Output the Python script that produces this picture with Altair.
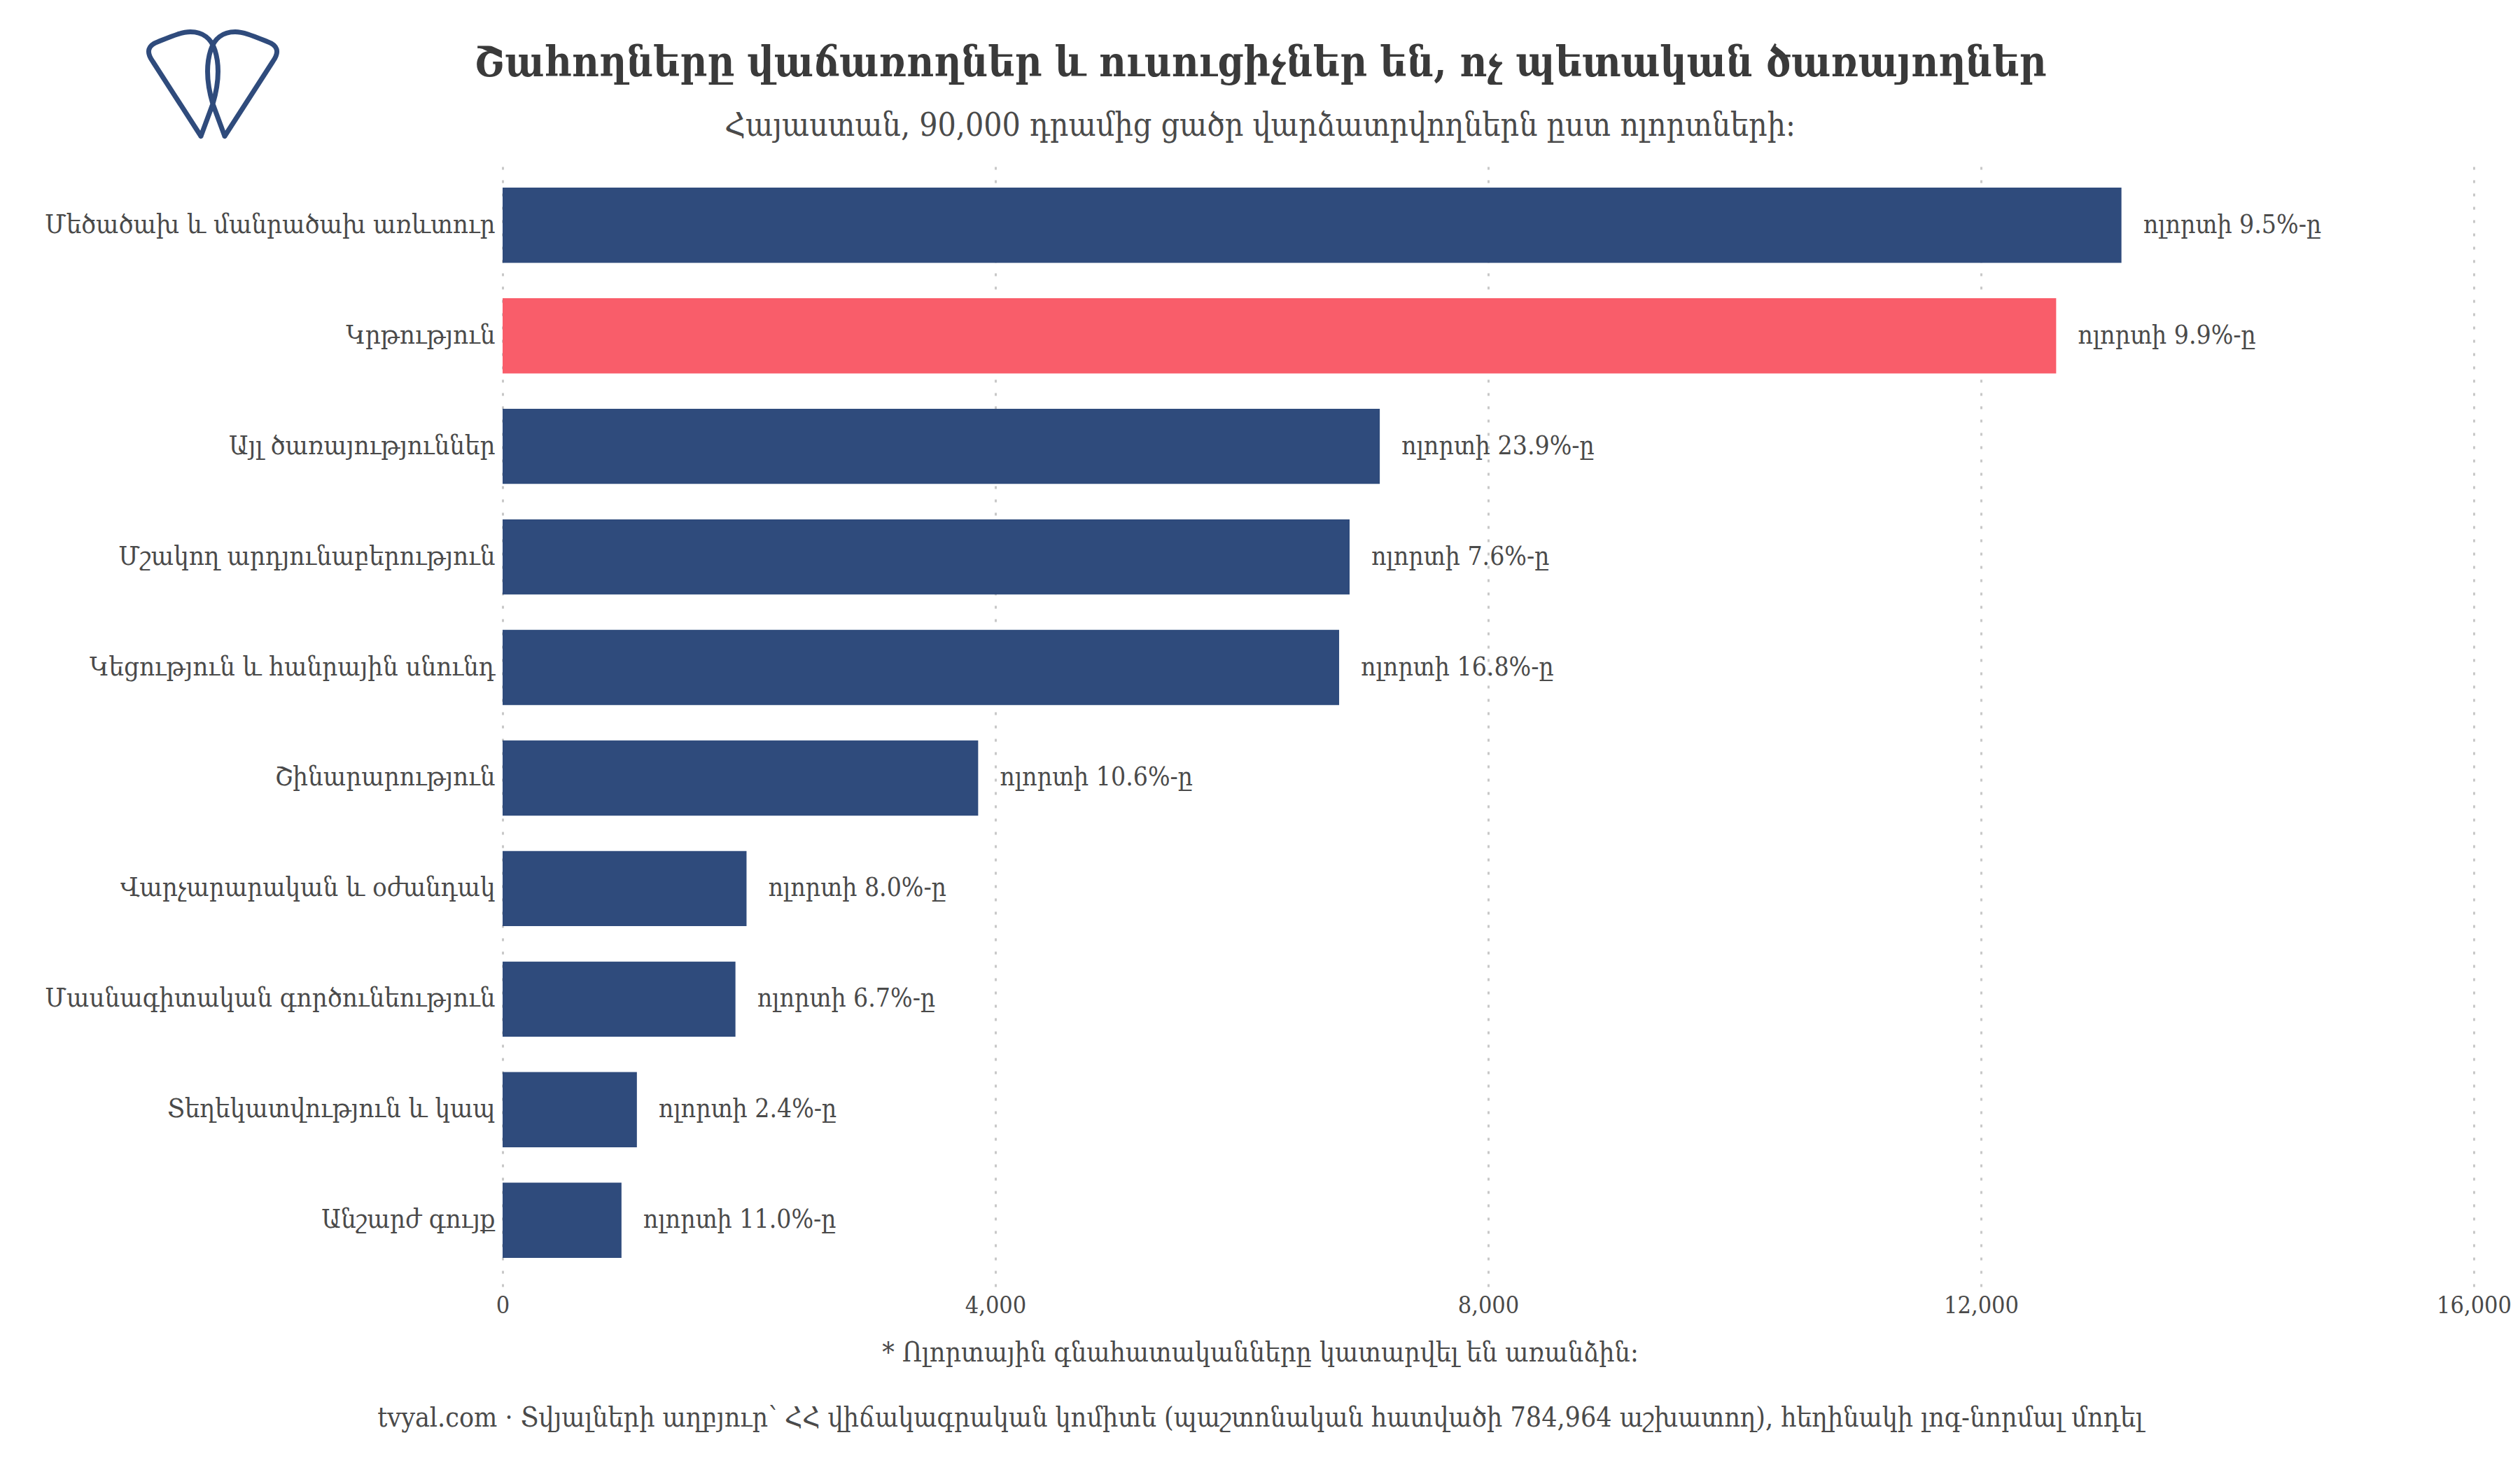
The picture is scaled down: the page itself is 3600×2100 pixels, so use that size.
import altair as alt
import pandas as pd

categories = [
    "Մեծածախ և մանրածախ առևտուր",
    "Կրթություն",
    "Այլ ծառայություններ",
    "Մշակող արդյունաբերություն",
    "Կեցություն և հանրային սնունդ",
    "Շինարարություն",
    "Վարչարարական և օժանդակ",
    "Մասնագիտական գործունեություն",
    "Տեղեկատվություն և կապ",
    "Անշարժ գույք",
]
values = [13140, 12610, 7120, 6875, 6790, 3860, 1980, 1890, 1090, 965]
shares = ["9.5", "9.9", "23.9", "7.6", "16.8", "10.6", "8.0", "6.7", "2.4", "11.0"]
x_ticks = [0, 4000, 8000, 12000, 16000]
highlight = "Կրթություն"

title_text = "Շահողները վաճառողներ և ուսուցիչներ են, ոչ պետական ծառայողներ"
subtitle_text = "Հայաստան, 90,000 դրամից ցածր վարձատրվողներն ըստ ոլորտների:"
footnote_text = "* Ոլորտային գնահատականները կատարվել են առանձին:"
source_text = ("tvyal.com  ·  Տվյալների աղբյուր՝ ՀՀ վիճակագրական կոմիտե "
               "(պաշտոնական հատվածի 784,964 աշխատող), հեղինակի լոգ-նորմալ մոդել")

df = pd.DataFrame({
    "category": categories,
    "value": values,
    "label": ["ոլորտի " + s + "%-ը" for s in shares],
})

FONT = "DejaVu Serif Condensed, DejaVu Serif, serif"
NAVY = "#2f4b7c"
RED = "#f95d6a"
TXT = "#4a4a4a"

PLOT_W = 2816
PLOT_H = 1611

y_enc = alt.Y("category:N", sort=categories,
              scale=alt.Scale(paddingInner=0.32, paddingOuter=0.26),
              axis=alt.Axis(title=None, labelFontSize=38, labelFont=FONT,
                            labelColor=TXT, labelPadding=11, ticks=False,
                            domain=False, grid=False, labelLimit=1000))

x_enc = alt.X("value:Q",
              scale=alt.Scale(domain=[0, 16000], nice=False),
              axis=alt.Axis(values=x_ticks, format=",d",
                            title=[footnote_text, source_text],
                            titleFont=FONT, titleFontSize=39,
                            titleFontWeight="normal", titleColor=TXT,
                            titleLineHeight=93, titleBaseline="top",
                            titleAlign="center", titleAnchor="start",
                            titleX=1082, titleY=75,
                            labelFont=FONT, labelFontSize=34, labelColor=TXT,
                            labelPadding=10, labelFlush=False,
                            ticks=False, tickSize=0,
                            domain=False, grid=True, gridColor="#c8c8c8",
                            gridDash=[4, 15], gridWidth=3))

bars = alt.Chart(df).mark_bar().encode(
    x=x_enc,
    y=y_enc,
    color=alt.condition(alt.datum.category == highlight,
                        alt.value(RED), alt.value(NAVY)),
)

labels = alt.Chart(df).mark_text(
    align="left", baseline="middle", dx=31, fontSize=37, font=FONT, color=TXT
).encode(
    x="value:Q",
    y=alt.Y("category:N", sort=categories),
    text="label:N",
)

LOGO_PATH = (
    "M -17 73 L -86 -34 C -96 -48 -92 -57 -78 -62 C -58 -70 -44 -76 -32 -76 "
    "C -14 -76 -2 -66 3 -50 C 10 -28 8 0 0 27 L -17 73 "
    "M 17 73 L 86 -34 C 96 -48 92 -57 78 -62 C 58 -70 44 -76 32 -76 "
    "C 14 -76 2 -66 -3 -50 C -10 -28 -8 0 0 27 L 17 73"
)

logo = alt.Chart(pd.DataFrame({"k": [0]})).mark_point(
    shape=LOGO_PATH, size=4, filled=False, stroke=NAVY, strokeWidth=7,
    opacity=1, strokeJoin="round", strokeCap="round"
).encode(x=alt.value(-414), y=alt.value(-105.5))

chart = alt.layer(bars, labels, logo).properties(
    width=PLOT_W,
    height=PLOT_H,
    background="white",
    autosize=alt.AutoSizeParams(type="none"),
    padding={"left": 710, "top": 219, "right": 58, "bottom": 254},
    title=alt.TitleParams(
        text=title_text,
        subtitle=subtitle_text,
        anchor="middle",
        frame="group",
        dx=-326,
        offset=-161,
        font=FONT,
        fontSize=59,
        fontWeight="bold",
        color="#3a3a3a",
        subtitleFont=FONT,
        subtitleFontSize=46,
        subtitleColor=TXT,
        subtitlePadding=37,
    ),
).configure_view(stroke=None)

chart.save("out.html", embed_options={"renderer": "svg", "actions": False})
